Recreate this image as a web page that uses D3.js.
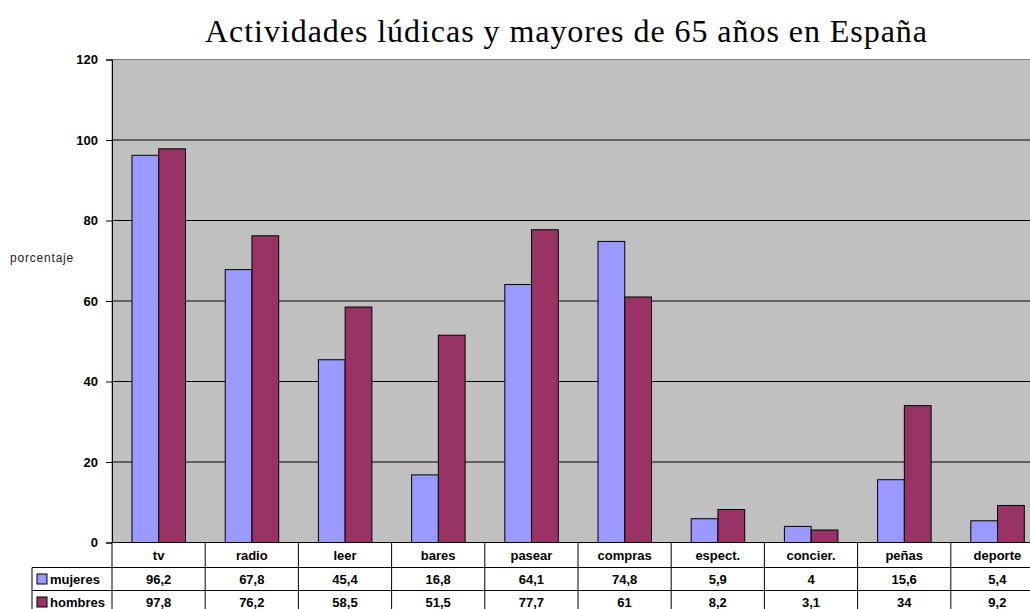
<!DOCTYPE html>
<html>
<head>
<meta charset="utf-8">
<script src="https://cdn.jsdelivr.net/npm/d3@7"></script>
<style>
  body { margin: 0; background: #fff; }
  svg { display: block; }
  .tick text { font-family: Arial, "Liberation Sans", sans-serif; font-weight: bold; }
  .cell { font-family: Arial, "Liberation Sans", sans-serif; font-weight: bold; font-size: 13px; }
</style>
</head>
<body>
<div id="chart"></div>
<script>
// data
var categories = ["tv", "radio", "leer", "bares", "pasear", "compras", "espect.", "concier.", "peñas", "deporte"];
var seriesNames = ["mujeres", "hombres"];
var mujeres = [96.2, 67.8, 45.4, 16.8, 64.1, 74.8, 5.9, 4, 15.6, 5.4];
var hombres = [97.8, 76.2, 58.5, 51.5, 77.7, 61, 8.2, 3.1, 34, 9.2];
var yTicks = [0, 20, 40, 60, 80, 100, 120];

var colors = { mujeres: "#9999ff", hombres: "#993366" };

// dimensions
var svgWidth = 1030;
var svgHeight = 609;

var plot = { left: 112, right: 1044, top: 59.5, bottom: 542.5 };
var rowCat = 25, rowVal = 23;

var svg = d3.select("#chart")
    .append("svg")
    .attr("width", svgWidth)
    .attr("height", svgHeight);

var xScale = d3.scaleBand()
    .domain(categories)
    .range([plot.left, plot.right])
    .padding(0);

var xInner = d3.scaleBand()
    .domain(seriesNames)
    .range([20, 73.5]);

var yScale = d3.scaleLinear()
    .domain([0, 120])
    .range([plot.bottom, plot.top]);

// title
svg.append("text")
    .attr("x", 566)
    .attr("y", 42)
    .attr("text-anchor", "middle")
    .attr("font-family", "'Liberation Serif', 'DejaVu Serif', serif")
    .attr("font-size", "32px")
    .attr("textLength", 722)
    .attr("lengthAdjust", "spacing")
    .attr("fill", "#000")
    .text("Actividades lúdicas y mayores de 65 años en España");

// plot background
svg.append("rect")
    .attr("x", plot.left)
    .attr("y", plot.top)
    .attr("width", plot.right - plot.left)
    .attr("height", plot.bottom - plot.top)
    .attr("fill", "#c0c0c0")
    .attr("stroke", "#808080")
    .attr("stroke-width", 1);

// gridlines
svg.append("g")
    .selectAll("line")
    .data(yTicks.filter(d => d > 0 && d < 120))
    .enter()
    .append("line")
    .attr("x1", plot.left)
    .attr("x2", plot.right)
    .attr("y1", d => yScale(d))
    .attr("y2", d => yScale(d))
    .attr("stroke", "#000")
    .attr("stroke-width", 1);

// bars
var rows = categories.map((c, i) => ({ cat: c, mujeres: mujeres[i], hombres: hombres[i] }));

var groups = svg.append("g")
    .selectAll("g")
    .data(rows)
    .enter()
    .append("g")
    .attr("transform", d => `translate(${xScale(d.cat)},0)`);

groups.selectAll("rect")
    .data(d => seriesNames.map(s => ({ key: s, value: d[s] })))
    .enter()
    .append("rect")
    .attr("x", d => xInner(d.key))
    .attr("y", d => yScale(d.value))
    .attr("width", xInner.bandwidth())
    .attr("height", d => yScale(0) - yScale(d.value))
    .attr("fill", d => colors[d.key])
    .attr("stroke", "#000")
    .attr("stroke-width", 1);

// y axis
var yAxis = d3.axisLeft(yScale)
    .tickValues(yTicks)
    .tickSize(6)
    .tickPadding(8);

var yAxisG = svg.append("g")
    .attr("transform", `translate(${plot.left},0)`)
    .call(yAxis);

yAxisG.select(".domain").attr("stroke", "#000");
yAxisG.selectAll(".tick line").attr("stroke", "#000");
yAxisG.selectAll(".tick text")
    .attr("font-size", "13px")
    .attr("fill", "#000");

// y label
svg.append("text")
    .attr("x", 10)
    .attr("y", 262)
    .attr("font-family", "Arial, 'Liberation Sans', sans-serif")
    .attr("font-size", "12px")
    .attr("letter-spacing", "0.8px")
    .attr("fill", "#222")
    .text("porcentaje");

// data table
var table = svg.append("g");
var yCatTop = plot.bottom;
var yMujTop = yCatTop + rowCat;
var yHomTop = yMujTop + rowVal;
var yHomBottom = yHomTop + rowVal;

table.append("rect")
    .attr("x", plot.left)
    .attr("y", yCatTop)
    .attr("width", plot.right - plot.left)
    .attr("height", yHomBottom - yCatTop)
    .attr("fill", "#fff");

table.append("rect")
    .attr("x", 32)
    .attr("y", yMujTop)
    .attr("width", plot.left - 32)
    .attr("height", yHomBottom - yMujTop)
    .attr("fill", "#fff");

// horizontal table lines
[[plot.left, yCatTop], [32, yMujTop], [32, yHomTop]].forEach(function (p) {
    table.append("line")
        .attr("x1", p[0]).attr("x2", plot.right)
        .attr("y1", p[1]).attr("y2", p[1])
        .attr("stroke", "#000");
});

// vertical table lines
table.selectAll(".vline")
    .data(categories.slice(1))
    .enter()
    .append("line")
    .attr("class", "vline")
    .attr("x1", d => xScale(d)).attr("x2", d => xScale(d))
    .attr("y1", yCatTop).attr("y2", yHomBottom)
    .attr("stroke", "#000");

table.append("line")
    .attr("x1", plot.left).attr("x2", plot.left)
    .attr("y1", yCatTop).attr("y2", yHomBottom)
    .attr("stroke", "#000");

table.append("line")
    .attr("x1", 32).attr("x2", 32)
    .attr("y1", yMujTop).attr("y2", yHomBottom)
    .attr("stroke", "#000");

// category labels
table.selectAll(".catlabel")
    .data(categories)
    .enter()
    .append("text")
    .attr("class", "cell")
    .attr("x", d => xScale(d) + xScale.bandwidth() / 2)
    .attr("y", yCatTop + rowCat / 2 + 5)
    .attr("text-anchor", "middle")
    .text(d => d);

// value rows
var fmt = v => String(v).replace(".", ",");
[[mujeres, yMujTop], [hombres, yHomTop]].forEach(function (r) {
    table.selectAll(null)
        .data(r[0])
        .enter()
        .append("text")
        .attr("class", "cell")
        .attr("x", (d, i) => xScale(categories[i]) + xScale.bandwidth() / 2)
        .attr("y", r[1] + rowVal / 2 + 5)
        .attr("text-anchor", "middle")
        .text(d => fmt(d));
});

// legend keys
seriesNames.forEach(function (s, i) {
    var top = i === 0 ? yMujTop : yHomTop;
    table.append("rect")
        .attr("x", 37)
        .attr("y", top + rowVal / 2 - 5)
        .attr("width", 10)
        .attr("height", 10)
        .attr("fill", colors[s])
        .attr("stroke", "#000");
    table.append("text")
        .attr("class", "cell")
        .attr("x", 50)
        .attr("y", top + rowVal / 2 + 5)
        .text(s);
});
</script>
</body>
</html>
